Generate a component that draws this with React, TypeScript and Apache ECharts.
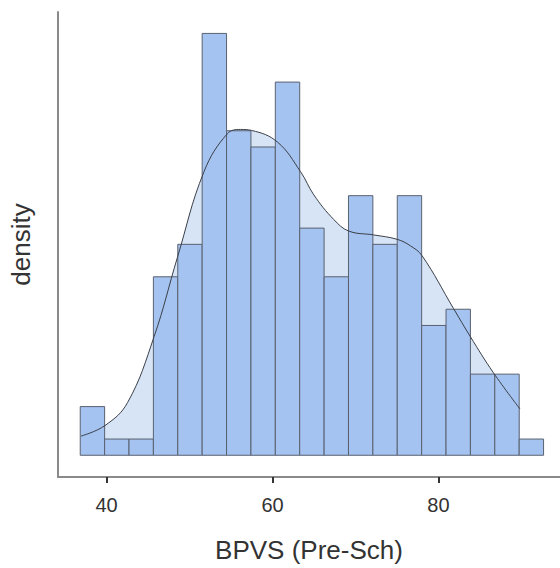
import React, { useEffect, useRef } from "react";
import * as echarts from "echarts";

// Histogram of BPVS (Pre-Sch) scores with a kernel density overlay.
const binStart = 36.82;
const binWidth = 2.94;
const counts = [3, 1, 1, 11, 13, 26, 20, 19, 23, 14, 11, 16, 13, 16, 8, 9, 5, 5, 1];

// Density curve, expressed on the same (count) scale as the bars.
const densityX = [
  36.91, 39.8, 42.53, 45.73, 48.54, 51.74, 54.56, 56.16, 57.48, 60.58, 63.38, 64.98,
  67.39, 69.19, 72.2, 75.02, 76.62, 78.03, 81.83, 83.84, 86.64, 89.84,
];
const densityY = [
  1.18, 1.83, 3.25, 7.32, 12.2, 17.48, 19.82, 20.08, 20.02, 19.31, 17.48, 16.05,
  14.53, 13.82, 13.58, 13.31, 12.91, 12.3, 9.04, 7.32, 5.08, 2.85,
];

const xTicks = [40, 60, 80];
const xTitle = "BPVS (Pre-Sch)";
const yTitle = "density";

const FONT = "'Liberation Sans', Arial, sans-serif";

export default function App() {
  const ref = useRef<HTMLDivElement>(null);

  useEffect(() => {
    document.body.style.margin = "0";
    if (!ref.current) return;
    const chart = echarts.init(ref.current, undefined, { renderer: "svg" });

    const bins = counts.map((c, i) => [binStart + i * binWidth, binStart + (i + 1) * binWidth, c]);
    const curve = densityX.map((x, i) => [x, densityY[i]]);

    chart.setOption({
      animation: false,
      backgroundColor: "#ffffff",
      grid: { left: 57, top: 12, right: 0, bottom: 86 },
      xAxis: {
        type: "value",
        min: 34.14,
        max: 94.66,
        splitLine: { show: false },
        axisLine: { show: true, onZero: false, lineStyle: { color: "#8a8a8a", width: 2 } },
        axisTick: { show: true, customValues: xTicks, length: 6, lineStyle: { color: "#333333", width: 2 } },
        axisLabel: {
          customValues: xTicks,
          color: "#333333",
          fontSize: 20,
          fontFamily: FONT,
          margin: 18,
        },
        name: xTitle,
        nameLocation: "middle",
        nameGap: 60,
        nameTextStyle: { color: "#333333", fontSize: 26, fontFamily: FONT },
      },
      yAxis: {
        type: "value",
        min: -1.34,
        max: 27.32,
        splitLine: { show: false },
        axisLine: { show: true, onZero: false, lineStyle: { color: "#8a8a8a", width: 2 } },
        axisTick: { show: false },
        axisLabel: { show: false },
        name: yTitle,
        nameLocation: "middle",
        nameGap: 24,
        nameRotate: 90,
        nameTextStyle: { color: "#333333", fontSize: 26, fontFamily: FONT },
      },
      series: [
        {
          type: "line",
          data: curve,
          smooth: 0.4,
          symbol: "none",
          lineStyle: { width: 0 },
          areaStyle: { color: "#d6e4f6", opacity: 1 },
          z: 1,
        },
        {
          type: "custom",
          data: bins,
          encode: { x: [0, 1], y: 2 },
          renderItem: (params: any, api: any) => {
            const p0 = api.coord([api.value(0), api.value(2)]);
            const p1 = api.coord([api.value(1), 0]);
            return {
              type: "rect",
              shape: { x: p0[0], y: p0[1], width: p1[0] - p0[0], height: p1[1] - p0[1] },
              style: { fill: "#a5c3f0", stroke: "#596170", lineWidth: 1 },
            };
          },
          z: 2,
        },
        {
          type: "line",
          data: curve,
          smooth: 0.4,
          symbol: "none",
          lineStyle: { width: 1, color: "#3a3f48" },
          z: 3,
        },
      ],
    });

    return () => chart.dispose();
  }, []);

  return (
    <div
      ref={ref}
      style={{ position: "absolute", left: 0, top: 0, width: 560, height: 568 }}
    />
  );
}
